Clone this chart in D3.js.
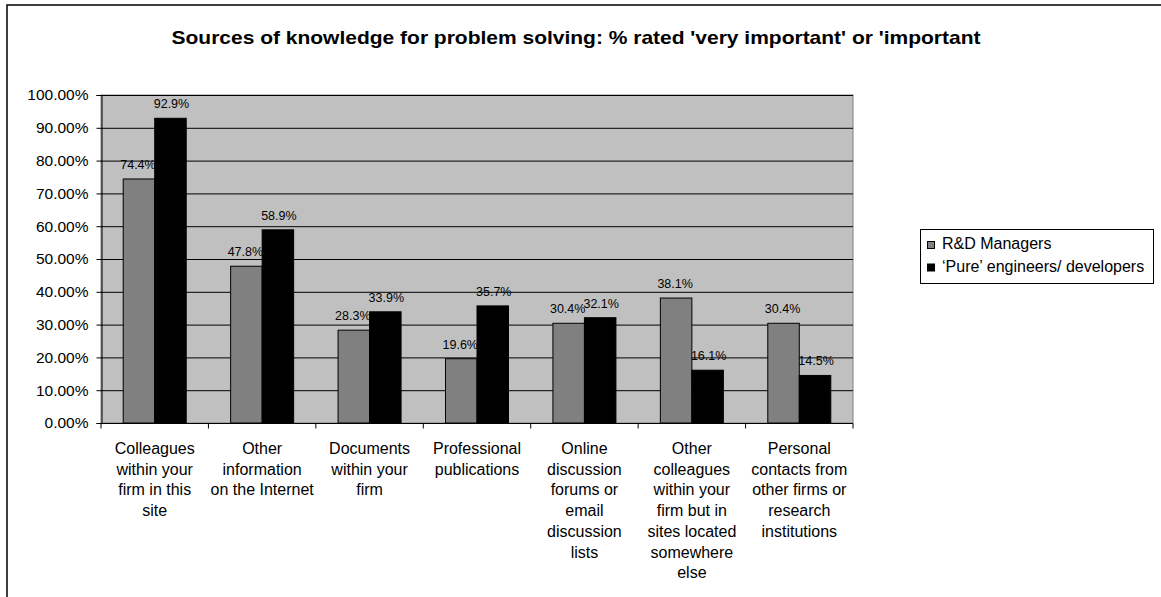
<!DOCTYPE html>
<html><head><meta charset="utf-8">
<script src="https://cdn.jsdelivr.net/npm/d3@7"></script>
<style>body{margin:0;background:#fff;} text{font-family:"Liberation Sans",Arial,sans-serif;fill:#000;}</style>
</head><body>
<svg id="c" width="1161" height="597"></svg>
<script>
const categories = [
  ["Colleagues","within your","firm in this","site"],
  ["Other","information","on the Internet"],
  ["Documents","within your","firm"],
  ["Professional","publications"],
  ["Online","discussion","forums or","email","discussion","lists"],
  ["Other","colleagues","within your","firm but in","sites located","somewhere","else"],
  ["Personal","contacts from","other firms or","research","institutions"]
];
const seriesNames = ["R&D Managers", "\u2018Pure\u2019 engineers/ developers"];
const managers = [74.4, 47.8, 28.3, 19.6, 30.4, 38.1, 30.4];
const engineers = [92.9, 58.9, 33.9, 35.7, 32.1, 16.1, 14.5];
const yTicks = [0,10,20,30,40,50,60,70,80,90,100];
const title = "Sources of knowledge for problem solving: % rated 'very important' or 'important";

const svg = d3.select("#c");
svg.append("rect").attr("x",7).attr("y",5).attr("width",1200).attr("height",640)
  .attr("fill","#fff").attr("stroke","#000").attr("stroke-width",1.5);

const L=101, R=853, T=95, B=423;
const idx = d3.range(categories.length);
const x = d3.scaleBand().domain(idx).range([L,R]).paddingInner(0).paddingOuter(0);
const y = d3.scaleLinear().domain([0,100]).range([B,T]);
const bw = 31.5;
const colors = ["#808080","#000000"];
const data = [managers, engineers];

svg.append("rect").attr("x",L).attr("y",T).attr("width",R-L).attr("height",B-T)
  .attr("fill","#c0c0c0").attr("stroke","#808080");

svg.append("g").selectAll("line").data(yTicks.filter(d=>d>0)).join("line")
  .attr("x1",L).attr("x2",R).attr("y1",d=>y(d)+0.5).attr("y2",d=>y(d)+0.5)
  .attr("stroke","#000").attr("stroke-width",1);

// bars
data.forEach((vals,s)=>{
  const g = svg.append("g");
  g.selectAll("rect").data(vals).join("rect")
    .attr("x",(d,i)=>x(i)+x.bandwidth()/2 - bw + s*bw)
    .attr("y",d=>y(d)).attr("width",bw).attr("height",d=>B-y(d))
    .attr("fill",colors[s]).attr("stroke","#000").attr("stroke-width",1);
  g.selectAll("text").data(vals).join("text")
    .attr("x",(d,i)=>x(i)+x.bandwidth()/2 - bw/2 + s*bw + (s===0?-1:1))
    .attr("y",d=>y(d)-10).attr("text-anchor","middle").attr("font-size","12.5px")
    .text(d=>d.toFixed(1)+"%");
});

// y axis
const yAxis = d3.axisLeft(y).tickValues(yTicks).tickSize(5).tickPadding(8)
  .tickFormat(d=>d.toFixed(2)+"%");
const ya = svg.append("g").attr("transform",`translate(${L+0.5},0)`).call(yAxis);
ya.select(".domain").attr("stroke","#000");
ya.selectAll(".tick line").attr("stroke","#000");
ya.selectAll("text").attr("font-size","15.5px").attr("font-family","Liberation Sans, Arial, sans-serif").attr("fill","#000");

// x axis
const xa = svg.append("g").attr("transform",`translate(0,${B+0.5})`);
xa.append("line").attr("x1",L).attr("x2",R).attr("stroke","#000");
xa.selectAll("line.t").data(d3.range(categories.length+1)).join("line").attr("class","t")
  .attr("x1",i=>L+i*x.step()).attr("x2",i=>L+i*x.step()).attr("y1",0).attr("y2",5).attr("stroke","#000");
idx.forEach(i=>{
  const t = svg.append("text").attr("text-anchor","middle").attr("font-size","16px");
  categories[i].forEach((ln,k)=>{
    t.append("tspan").attr("x",x(i)+x.bandwidth()/2).attr("y",454+k*20.7).text(ln);
  });
});

// title
svg.append("g").attr("transform","translate(576,44) scale(1.2,1)")
  .append("text").attr("x",0).attr("y",0).attr("text-anchor","middle")
  .attr("font-size","17.5px").attr("font-weight","bold").text(title);

// legend
const lg = svg.append("g");
lg.append("rect").attr("x",920.5).attr("y",229.5).attr("width",233).attr("height",54)
  .attr("fill","#fff").attr("stroke","#000");
seriesNames.forEach((n,i)=>{
  lg.append("rect").attr("x",927.5).attr("y",241.5+i*22.5).attr("width",7).attr("height",7)
    .attr("fill",colors[i]).attr("stroke","#000");
  lg.append("text").attr("x",942).attr("y",249+i*23).attr("font-size","16px").text(n);
});
</script>
</body></html>
